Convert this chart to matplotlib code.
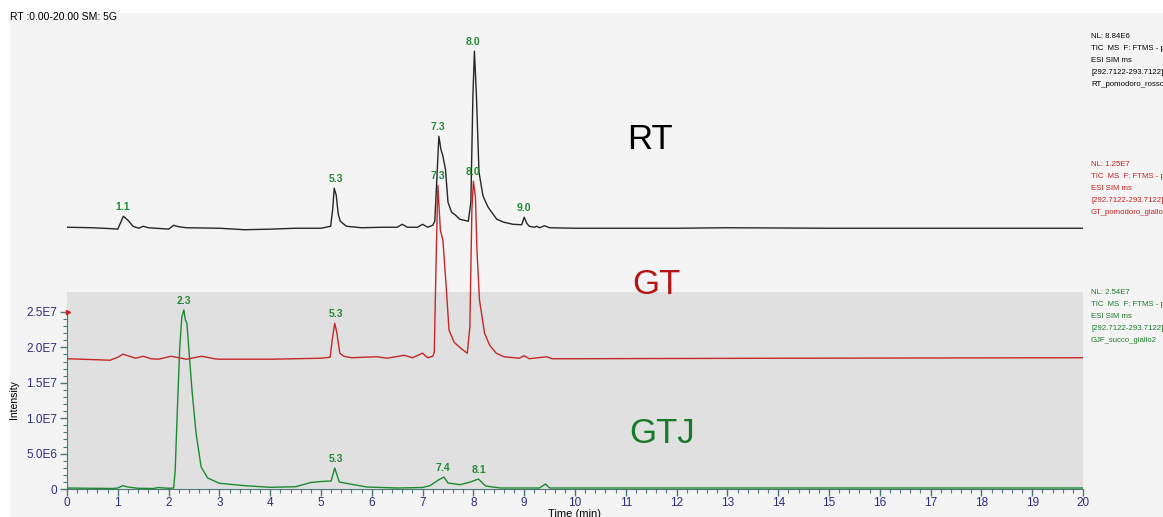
import numpy as np
import matplotlib
matplotlib.use("Agg")
import matplotlib.pyplot as plt
from matplotlib.patches import Rectangle
from matplotlib.ticker import FixedLocator, FixedFormatter, MultipleLocator

plt.rcParams["font.family"] = ["Liberation Sans", "DejaVu Sans"]

# ---- data (intensity in units of 1e6, as shown on the stacked display) ----
# RT trace, heights above its own baseline
rt_time = [0.0, 0.5, 0.9, 1.0, 1.05, 1.11, 1.2, 1.3, 1.41, 1.5, 1.6, 1.9, 2.0, 2.1, 2.2,
           2.35, 3.0, 3.5, 4.0, 4.5, 5.0, 5.19, 5.23, 5.26, 5.3, 5.34, 5.38, 5.5, 5.8,
           6.2, 6.5, 6.6, 6.7, 6.9, 7.0, 7.1, 7.2, 7.24, 7.28, 7.32, 7.36, 7.40, 7.45,
           7.50, 7.57, 7.65, 7.73, 7.90, 7.95, 7.99, 8.02, 8.06, 8.11, 8.19, 8.29, 8.46,
           8.6, 8.78, 8.95, 9.0, 9.05, 9.1, 9.2, 9.25, 9.3, 9.4, 9.5, 10.0, 11.0, 12.0,
           13.0, 15.0, 17.0, 20.0]
rt_int = [0.07, 0.0, -0.14, -0.2, 0.64, 1.62, 1.06, 0.21, -0.07, 0.21, 0.0, -0.14, -0.2,
          0.35, 0.14, 0.0, -0.07, -0.28, -0.2, -0.07, -0.07, 0.21, 2.61, 5.58, 4.59, 1.9,
          0.92, 0.21, 0.0, 0.07, 0.07, 0.49, 0.07, 0.07, 0.49, 0.07, 0.35, 0.92, 6.85,
          12.92, 11.09, 10.1, 8.26, 3.6, 2.19, 1.77, 1.2, 0.92, 3.6, 18.57, 24.93, 18.57,
          7.84, 4.45, 2.9, 1.2, 0.78, 0.49, 0.42, 1.48, 0.64, 0.21, 0.07, 0.21, 0.0, 0.28,
          0.0, -0.07, -0.07, -0.07, 0.0, -0.07, -0.07, -0.07]

# GT trace, heights above its own baseline
gt_time = [0.0, 0.85, 1.0, 1.1, 1.2, 1.35, 1.5, 1.65, 1.8, 2.05, 2.2, 2.35, 2.65, 2.9,
           3.0, 4.0, 5.0, 5.18, 5.22, 5.27, 5.31, 5.37, 5.45, 5.6, 6.1, 6.3, 6.64, 6.8,
           7.0, 7.1, 7.2, 7.23, 7.27, 7.30, 7.35, 7.40, 7.46, 7.52, 7.62, 7.75, 7.88,
           7.93, 7.97, 8.00, 8.04, 8.07, 8.12, 8.22, 8.32, 8.45, 8.6, 8.9, 9.0, 9.1,
           9.44, 9.55, 10.0, 14.0, 20.0]
gt_int = [0.0, -0.21, 0.21, 0.64, 0.42, 0.07, 0.35, 0.0, -0.07, 0.35, 0.14, -0.07, 0.35,
          0.0, -0.07, -0.07, 0.07, 0.21, 2.61, 5.01, 3.74, 0.78, 0.35, 0.14, 0.28, 0.07,
          0.49, 0.14, 0.78, 0.14, 0.35, 0.92, 15.3, 24.5, 18.15, 16.74, 10.66, 4.03, 2.33,
          1.48, 0.78, 4.45, 20.97, 25.07, 22.81, 15.32, 8.26, 3.6, 1.91, 0.78, 0.28, 0.07,
          0.42, 0.0, 0.28, 0.0, 0.0, 0.07, 0.14]

# GTJ trace (sits on the intensity axis)
gtj_time = [0.0, 0.5, 0.9, 1.0, 1.1, 1.2, 1.4, 1.7, 1.8, 2.0, 2.10, 2.13, 2.17, 2.22,
            2.26, 2.30, 2.33, 2.36, 2.40, 2.46, 2.54, 2.64, 2.77, 3.0, 3.5, 4.0, 4.5,
            4.8, 5.0, 5.2, 5.27, 5.36, 5.57, 5.9, 6.5, 7.0, 7.15, 7.31, 7.42, 7.5, 7.74,
            7.94, 8.1, 8.24, 8.53, 9.3, 9.42, 9.5, 10.0, 20.0]
gtj_int = [0.14, 0.1, 0.07, 0.14, 0.47, 0.28, 0.1, 0.07, 0.21, 0.1, 0.14, 2.68, 10.73,
           20.06, 24.29, 25.28, 23.87, 23.45, 19.63, 13.98, 7.91, 3.11, 1.55, 0.81, 0.47,
           0.24, 0.32, 0.92, 1.06, 1.13, 2.97, 0.99, 0.71, 0.28, 0.14, 0.21, 0.49, 1.27,
           1.69, 0.85, 0.61, 0.99, 1.41, 0.42, 0.14, 0.14, 0.71, 0.14, 0.14, 0.14]

# peak retention times that get a label
rt_peaks = [1.1, 5.3, 7.3, 8.0, 9.0]
gt_peaks = [5.3, 7.3, 8.0]
gtj_peaks = [2.3, 5.3, 7.4, 8.1]

y_ticks = [0, 5, 10, 15, 20, 25]
y_tick_labels = ["0", "5.0E6", "1.0E7", "1.5E7", "2.0E7", "2.5E7"]

rt_info = ["NL: 8.84E6", "TIC  MS  F: FTMS - p ESI SIM ms", "ESI SIM ms",
           "[292.7122-293.7122]", "RT_pomodoro_rosso2"]
gt_info = ["NL: 1.25E7", "TIC  MS  F: FTMS - p ESI SIM ms", "ESI SIM ms",
           "[292.7122-293.7122]", "GT_pomodoro_giallo2"]
gtj_info = ["NL: 2.54E7", "TIC  MS  F: FTMS - p ESI SIM ms", "ESI SIM ms",
            "[292.7122-293.7122]", "GJF_succo_giallo2"]

# ---- layout / style ----
RT_OFFSET = 36.9
GT_OFFSET = 18.4
BLACK, RED, GREEN = "#262626", "#c62828", "#1d8a30"
LABEL_GREEN = "#238a35"
NAVY = "#2d2d80"
SPINE = "#4d7878"

W, H = 1163, 517
fig = plt.figure(figsize=(W / 100, H / 100), dpi=100, facecolor="#f4f4f4")
fig.patches.append(Rectangle((0, 1 - 12 / H), 1, 12 / H, transform=fig.transFigure,
                             color="white", zorder=-5))
fig.patches.append(Rectangle((0, 0), 9 / W, 1, transform=fig.transFigure,
                             color="white", zorder=-5))

ax = fig.add_axes([67 / W, 1 - 489 / H, (1083 - 67) / W, (489 - 12) / H])
ax.set_facecolor("none")
ax.set_xlim(0, 20)
ax.set_ylim(0, (489 - 12) / 7.08)

# darker plot area
ax.add_patch(Rectangle((0, 0), 20, (489 - 292) / 7.08, color="#e0e0e0", zorder=0,
                       linewidth=0))

traces = [
    (rt_time, np.array(rt_int) + RT_OFFSET, BLACK, rt_peaks),
    (gt_time, np.array(gt_int) + GT_OFFSET, RED, gt_peaks),
    (gtj_time, np.array(gtj_int), GREEN, gtj_peaks),
]
for t, v, c, peaks in traces:
    t = np.array(t)
    ax.plot(t, v, color=c, lw=1.0, zorder=3)
    for p in peaks:
        near = np.abs(t - p) <= 0.08
        top = v[near].max()
        ax.annotate(f"{p:.1f}", (p, top), xytext=(0, 3), textcoords="offset points",
                    ha="center", va="bottom", fontsize=7.5, color=LABEL_GREEN,
                    fontweight="bold", zorder=4)

# small red marker at the top of the axis
ax.plot([0.02], [25], marker=">", ms=3, color=RED, clip_on=False, zorder=4)

# big sample names
ax.text(11.48, 49.4, "RT", fontsize=25, color="black", ha="center", va="center")
ax.text(11.61, 28.95, "GT", fontsize=25, color="#b51515", ha="center", va="center")
ax.text(11.71, 7.9, "GTJ", fontsize=25, color="#167a26", ha="center", va="center")

# axes styling
for s in ["top", "right"]:
    ax.spines[s].set_visible(False)
ax.spines["left"].set_bounds(0, 25)
ax.spines["left"].set_color(SPINE)
ax.spines["bottom"].set_color(SPINE)
ax.yaxis.set_major_locator(FixedLocator(y_ticks))
ax.yaxis.set_major_formatter(FixedFormatter(y_tick_labels))
ax.yaxis.set_minor_locator(FixedLocator(np.arange(0, 25.5, 1)))
ax.xaxis.set_major_locator(MultipleLocator(1))
ax.xaxis.set_minor_locator(MultipleLocator(0.2))
ax.tick_params(axis="both", which="major", length=5, color=SPINE, labelcolor=NAVY,
               labelsize=8.5, width=1)
ax.tick_params(axis="both", which="minor", length=3, color=SPINE, width=0.8)
ax.tick_params(axis="x", pad=1)
ax.tick_params(axis="y", pad=2)
ax.set_xlabel("Time (min)", fontsize=8, labelpad=0)

fig.text(14 / W, 1 - 400 / H, "Intensity", rotation=90, fontsize=7.5,
         ha="center", va="center")
fig.text(10 / W, 1 - 17 / H, "RT :0.00-20.00 SM: 5G", fontsize=7.5, ha="left",
         va="center")

for info, top_y, c in [(rt_info, 37, "black"), (gt_info, 165, "#c62020"),
                       (gtj_info, 293, "#1a7a25")]:
    for i, line in enumerate(info):
        fig.text(1091 / W, 1 - (top_y + i * 11.8) / H, line, fontsize=5.6, color=c,
                 ha="left", va="center")

fig.savefig("out.png", dpi=100, facecolor=fig.get_facecolor())
